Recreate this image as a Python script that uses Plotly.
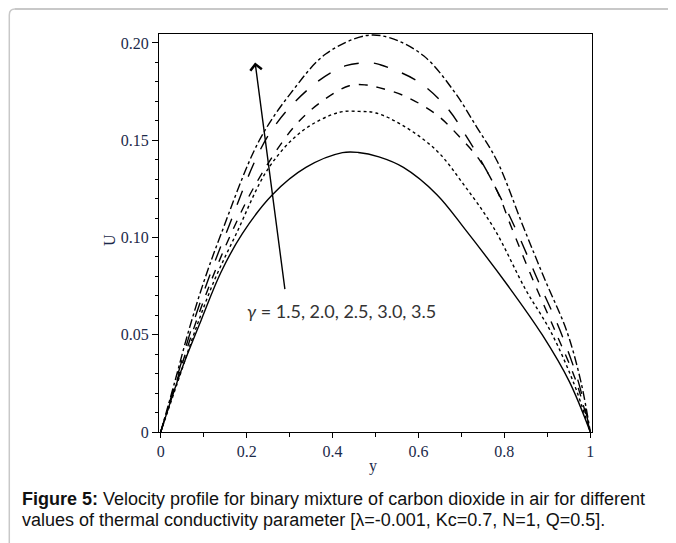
import plotly.graph_objects as go

# ---- data ----
x_g15 = [0, 0.045, 0.095, 0.14, 0.19, 0.26, 0.338, 0.423, 0.46, 0.508, 0.565, 0.643, 0.711, 0.811, 0.888, 0.951, 1.0]
u_g15 = [0, 0.030, 0.058, 0.082, 0.102, 0.122, 0.136, 0.1436, 0.1437, 0.1414, 0.136, 0.122, 0.1035, 0.0744, 0.050, 0.026, 0]

x_g20 = [0, 0.040, 0.080, 0.125, 0.175, 0.252, 0.330, 0.415, 0.462, 0.501, 0.565, 0.643, 0.705, 0.775, 0.850, 0.907, 0.960, 1.0]
u_g20 = [0, 0.026, 0.052, 0.078, 0.1015, 0.136, 0.1548, 0.1643, 0.1648, 0.164, 0.1574, 0.1445, 0.1273, 0.105, 0.073, 0.052, 0.026, 0]

x_g25 = [0, 0.037, 0.075, 0.118, 0.163, 0.22, 0.307, 0.369, 0.439, 0.478, 0.508, 0.565, 0.643, 0.697, 0.744, 0.785, 0.815, 0.865, 0.918, 0.967, 1.0]
u_g25 = [0, 0.026, 0.052, 0.078, 0.1015, 0.127, 0.156, 0.169, 0.178, 0.1784, 0.177, 0.173, 0.163, 0.1514, 0.1393, 0.123, 0.106, 0.079, 0.052, 0.026, 0]

x_g30 = [0, 0.035, 0.070, 0.110, 0.151, 0.252, 0.353, 0.431, 0.493, 0.511, 0.596, 0.666, 0.713, 0.759, 0.825, 0.878, 0.930, 0.972, 1.0]
u_g30 = [0, 0.026, 0.052, 0.078, 0.1015, 0.153, 0.178, 0.1883, 0.1897, 0.1888, 0.1806, 0.1668, 0.1514, 0.1342, 0.105, 0.078, 0.052, 0.026, 0]

x_g35 = [0, 0.033, 0.065, 0.100, 0.140, 0.229, 0.307, 0.384, 0.478, 0.534, 0.612, 0.682, 0.736, 0.783, 0.845, 0.895, 0.945, 0.978, 1.0]
u_g35 = [0, 0.026, 0.052, 0.077, 0.1015, 0.1497, 0.1754, 0.1943, 0.2038, 0.2026, 0.1934, 0.1754, 0.1566, 0.1393, 0.105, 0.078, 0.052, 0.026, 0]

x_tickvals = [0, 0.2, 0.4, 0.6, 0.8, 1.0]
x_ticktext = ["0", "0.2", "0.4", "0.6", "0.8", "1"]
y_tickvals = [0, 0.05, 0.10, 0.15, 0.20]
y_ticktext = ["0", "0.05", "0.10", "0.15", "0.20"]

annot_text = "<i>γ</i> = 1.5, 2.0, 2.5, 3.0, 3.5"
caption_1 = "<b>Figure 5:</b> Velocity profile for binary mixture of carbon dioxide in air for different"
caption_2 = "values of thermal conductivity parameter [λ=-0.001, Kc=0.7, N=1, Q=0.5]."

series = [
    (x_g15, u_g15, "solid", "γ=1.5"),
    (x_g20, u_g20, "dot", "γ=2.0"),
    (x_g25, u_g25, "dash", "γ=2.5"),
    (x_g30, u_g30, "longdash", "γ=3.0"),
    (x_g35, u_g35, "dashdot", "γ=3.5"),
]

fig = go.Figure()
for xs, us, dash, name in series:
    fig.add_trace(go.Scatter(x=xs, y=us, mode="lines", name=name,
                             line=dict(color="black", width=1.4, dash=dash, shape="spline", smoothing=1.0),
                             showlegend=False))

axis_color = "#1c2a4a"
tickfont = dict(family="Liberation Serif", size=16, color=axis_color)

# The page has an 8px body margin: the figure is 8px smaller and offset.
fig.update_layout(
    width=668, height=535,
    margin=dict(l=151, r=84, t=26, b=111),
    paper_bgcolor="white", plot_bgcolor="white",
    xaxis=dict(range=[-0.004, 1.004], tickvals=x_tickvals, ticktext=x_ticktext,
               ticks="outside", ticklen=5, tickcolor="black", tickfont=tickfont,
               showline=True, linecolor="black", linewidth=1, mirror=True,
               showgrid=False, zeroline=False,
               minor=dict(dtick=0.1, ticks="outside", ticklen=4, tickcolor="black")),
    yaxis=dict(range=[0, 0.2046], tickvals=y_tickvals, ticktext=y_ticktext,
               ticks="outside", ticklen=6, tickcolor="black", tickfont=tickfont,
               showline=True, linecolor="black", linewidth=1, mirror=True,
               showgrid=False, zeroline=False,
               minor=dict(dtick=0.01, ticks="outside", ticklen=3, tickcolor="black")),
)


def px(xp):
    return (xp - 159) / 433


def py(yp):
    return (432 - yp) / 398


# axis titles
fig.add_annotation(x=px(373), y=py(466), xref="paper", yref="paper", text="y", showarrow=False,
                   xanchor="center", yanchor="middle",
                   font=dict(family="Liberation Serif", size=16, color=axis_color))
fig.add_annotation(x=px(109), y=py(240), xref="paper", yref="paper", text="U", showarrow=False,
                   xanchor="center", yanchor="middle",
                   textangle=-90, font=dict(family="Liberation Serif", size=16, color=axis_color))

# arrow
fig.add_annotation(x=0.2197, y=0.190, ax=0.2895, ay=0.0727, xref="x", yref="y", axref="x", ayref="y",
                   showarrow=True, arrowhead=4, arrowsize=1.6, arrowwidth=1.4, arrowcolor="black", text="")
# label
fig.add_annotation(x=0.42, y=0.0624, xref="x", yref="y", text=annot_text, showarrow=False,
                   xanchor="center", yanchor="middle",
                   font=dict(family="Lato", size=18, color="#333333"))

# caption
fig.add_annotation(x=px(20), y=py(499), xref="paper", yref="paper",
                   xanchor="left", yanchor="middle", align="left", showarrow=False, text=caption_1,
                   font=dict(family="Liberation Sans", size=18, color="#111111"))
fig.add_annotation(x=px(20), y=py(520), xref="paper", yref="paper",
                   xanchor="left", yanchor="middle", align="left", showarrow=False, text=caption_2,
                   font=dict(family="Liberation Sans", size=18, color="#111111"))

# page frame (gray rounded corner)
fig.add_shape(type="line", xref="paper", yref="paper", x0=px(15), y0=py(9), x1=px(690), y1=py(9),
              line=dict(color="#c8c8c8", width=2))
fig.add_shape(type="line", xref="paper", yref="paper", x0=px(9.3), y0=py(15), x1=px(9.3), y1=py(560),
              line=dict(color="#c8c8c8", width=1.5))
fig.add_shape(type="path", xref="paper", yref="paper",
              path=f"M {px(9.3)},{py(15)} Q {px(9.3)},{py(9)} {px(15)},{py(9)}",
              line=dict(color="#c8c8c8", width=1.5))

fig.write_html("out.html")
